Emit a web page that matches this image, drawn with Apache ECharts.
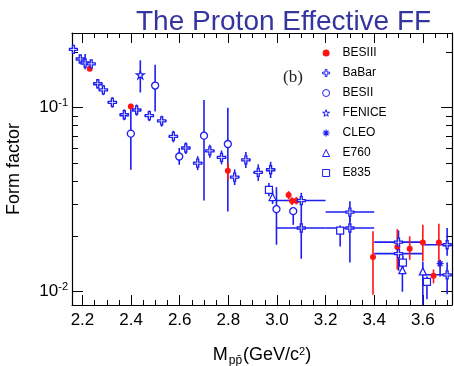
<!DOCTYPE html>
<html>
<head>
<meta charset="utf-8">
<script src="https://cdn.jsdelivr.net/npm/echarts@6/dist/echarts.min.js"></script>
<style>
html,body{margin:0;padding:0;background:#fff;}
#chart{width:454px;height:366px;}
</style>
</head>
<body>
<div id="chart"></div>
<script>
// ---------- data ----------
const xTickValues = [2.2, 2.4, 2.6, 2.8, 3.0, 3.2, 3.4, 3.6];
const xMinorValues = [2.25, 2.3, 2.35, 2.45, 2.5, 2.55, 2.65, 2.7, 2.75, 2.85, 2.9, 2.95,
                      3.05, 3.1, 3.15, 3.25, 3.3, 3.35, 3.45, 3.5, 3.55, 3.65, 3.7];
const yTickValues = [0.01, 0.1];
const yMinorValues = [0.02, 0.03, 0.04, 0.05, 0.06, 0.07, 0.08, 0.09, 0.2];

// BESIII
const besiiiX  = [2.230, 2.399, 2.798, 3.048, 3.062, 3.080, 3.395, 3.495, 3.546, 3.600, 3.644, 3.666];
const besiiiY  = [0.163, 0.1016, 0.0455, 0.0335, 0.0311, 0.0312, 0.01545, 0.0175, 0.0171, 0.0185, 0.0122, 0.0185];
const besiiiLo = [0.158, 0.098, 0.0406, 0.0318, 0.0296, 0.0298, 0.00964, 0.0132, 0.0149, 0.0146, 0.0111, 0.0137];
const besiiiHi = [0.168, 0.105, 0.0502, 0.0352, 0.0326, 0.0327, 0.0213, 0.0219, 0.0200, 0.0231, 0.0132, 0.0234];

// BaBar
const babarX  = [2.163, 2.191, 2.211, 2.236, 2.263, 2.286, 2.323, 2.372, 2.423, 2.475, 2.526, 2.574, 2.625,
                 2.674, 2.724, 2.772, 2.826, 2.872, 2.923, 2.974, 3.1, 3.1, 3.3, 3.3, 3.5, 3.5, 3.7, 3.7];
const babarY  = [0.2075, 0.184, 0.175, 0.173, 0.135, 0.125, 0.107, 0.0916, 0.0972, 0.0905, 0.0848, 0.0698, 0.0604,
                 0.0500, 0.0583, 0.0537, 0.0420, 0.0521, 0.0445, 0.0460, 0.0313, 0.0222, 0.0271, 0.0222, 0.0186, 0.0161, 0.0180, 0.01236];
const babarLo = [0.200, 0.177, 0.162, 0.166, 0.127, 0.117, 0.100, 0.0855, 0.0905, 0.0845, 0.0790, 0.0648, 0.0560,
                 0.0458, 0.0535, 0.0492, 0.0380, 0.0470, 0.0400, 0.0415, 0.0285, 0.0151, 0.0240, 0.0144, 0.0160, 0.0130, 0.0157, 0.00968];
const babarHi = [0.215, 0.191, 0.196, 0.180, 0.143, 0.133, 0.114, 0.0980, 0.104, 0.0965, 0.0905, 0.0750, 0.0648,
                 0.0545, 0.0630, 0.0585, 0.0462, 0.0575, 0.0492, 0.0508, 0.0345, 0.0285, 0.0310, 0.0260, 0.0215, 0.0186, 0.0222, 0.0144];
const babarXLo = [2.150, 2.178, 2.198, 2.223, 2.243, 2.266, 2.303, 2.352, 2.403, 2.455, 2.506, 2.554, 2.605,
                  2.654, 2.704, 2.752, 2.806, 2.852, 2.903, 2.954, 3.0, 3.0, 3.2, 3.2, 3.4, 3.4, 3.6, 3.6];
const babarXHi = [2.176, 2.204, 2.224, 2.249, 2.283, 2.306, 2.343, 2.392, 2.443, 2.495, 2.546, 2.594, 2.645,
                  2.694, 2.744, 2.792, 2.846, 2.892, 2.943, 2.994, 3.2, 3.2, 3.4, 3.4, 3.6, 3.6, 3.8, 3.8];

// BESII
const besiiX  = [2.399, 2.499, 2.598, 2.700, 2.798, 2.998, 3.067];
const besiiY  = [0.0723, 0.132, 0.0543, 0.0705, 0.0635, 0.0281, 0.0274];
const besiiLo = [0.046, 0.0955, 0.0490, 0.0313, 0.0273, 0.0180, 0.0231];
const besiiHi = [0.098, 0.171, 0.0604, 0.110, 0.100, 0.0370, 0.0285];

// FENICE
const feniceX  = [2.438];
const feniceY  = [0.151];
const feniceLo = [0.121];
const feniceHi = [0.181];

// CLEO
const cleoX  = [3.671];
const cleoY  = [0.0142];
const cleoLo = [0.0121];
const cleoHi = [0.0149];

// E760
const e760X  = [2.982, 3.516, 3.600];
const e760Y  = [0.0327, 0.0131, 0.0129];
const e760Lo = [0.0300, 0.0100, 0.0070];
const e760Hi = [0.0355, 0.0150, 0.0145];

// E835
const e835X  = [2.967, 3.260, 3.518, 3.617];
const e835Y  = [0.0358, 0.0215, 0.0144, 0.0113];
const e835Lo = [0.0330, 0.0176, 0.0129, 0.0091];
const e835Hi = [0.0390, 0.0229, 0.0158, 0.0121];

// ---------- styles ----------
const BLUE = '#1e1ef0';
const RED = '#ff1414';
const XMIN = 2.157, XMAX = 3.72;
const YMIN = 0.00847, YMAX = 0.2547;
const FONT = 'Liberation Sans';

function pts(xs, ys) { return xs.map((x, i) => [x, ys[i]]); }
function errs(xs, ys, lo, hi, xlo, xhi) {
  return xs.map((x, i) => [x, ys[i], lo[i], hi[i], xlo ? xlo[i] : x, xhi ? xhi[i] : x]);
}
function errSeries(name, data, color) {
  return {
    name: name + '_err', type: 'custom', xAxisIndex: 0, yAxisIndex: 0, clip: true, z: 2,
    silent: true,
    renderItem: function (params, api) {
      const x = api.value(0), y = api.value(1);
      const a = api.coord([x, api.value(2)]), b = api.coord([x, api.value(3)]);
      const c = api.coord([api.value(4), y]), d = api.coord([api.value(5), y]);
      const st = { stroke: color, lineWidth: 1.6 };
      return { type: 'group', children: [
        { type: 'line', shape: { x1: a[0], y1: a[1], x2: b[0], y2: b[1] }, style: st },
        { type: 'line', shape: { x1: c[0], y1: c[1], x2: d[0], y2: d[1] }, style: st }
      ]};
    },
    data: data
  };
}
function scat(name, data, symbol, size, fill, stroke, bw) {
  return {
    name: name, type: 'scatter', xAxisIndex: 0, yAxisIndex: 0, z: 5,
    symbol: symbol, symbolSize: size, data: data, clip: true,
    itemStyle: { color: fill, borderColor: stroke, borderWidth: bw, opacity: 1 },
    emphasis: { disabled: true }
  };
}

const CROSS = 'path://M3,0H5V3H8V5H5V8H3V5H0V3H3Z';
const STAR = 'path://M50,0L61,35L98,35L68,57L79,91L50,70L21,91L32,57L2,35L39,35Z';
const AST = 'path://M0,50L100,50M50,0L50,100M15,15L85,85M15,85L85,15';

const tickLine = { color: '#000', width: 1 };
function xAx(pos, major, labels) {
  return {
    type: 'value', position: pos, min: XMIN, max: XMAX, gridIndex: 0,
    axisLine: { show: major, lineStyle: { color: '#000', width: 1.2 } },
    axisTick: { show: true, inside: true, length: major ? 10 : 5,
      customValues: major ? xTickValues : xMinorValues, lineStyle: tickLine },
    axisLabel: labels ? { show: true, customValues: xTickValues, margin: 7,
      formatter: v => v.toFixed(1), fontSize: 17, color: '#000', fontFamily: FONT } : { show: false },
    splitLine: { show: false },
    name: labels ? '{m|M}{sub|pp\u0304}{m|(GeV/c}{sup|2}{m|)}' : '',
    nameLocation: 'middle', nameGap: 39,
    nameTextStyle: { fontFamily: FONT, color: '#000', fontSize: 18,
      rich: {
        m: { fontSize: 18, fontFamily: FONT, color: '#000' },
        sub: { fontSize: 12, fontFamily: FONT, color: '#000', verticalAlign: 'top', padding: [11, 1, 0, 1] },
        sup: { fontSize: 11, fontFamily: FONT, color: '#000', verticalAlign: 'bottom', padding: [0, 0, 10, 0] }
      } }
  };
}
function yAx(pos, major, labels) {
  return {
    type: 'log', logBase: 10, position: pos, min: YMIN, max: YMAX, gridIndex: 0,
    axisLine: { show: major, lineStyle: { color: '#000', width: 1.2 } },
    axisTick: { show: true, inside: true, length: major ? 11 : 6,
      customValues: major ? yTickValues : yMinorValues, lineStyle: tickLine },
    axisLabel: labels ? { show: true, customValues: yTickValues, margin: 4,
      formatter: v => '{b|10}{s|' + Math.round(Math.log10(v)) + '}',
      rich: {
        b: { fontSize: 17, fontFamily: FONT, color: '#000' },
        s: { fontSize: 11, fontFamily: FONT, color: '#000', verticalAlign: 'bottom', padding: [0, 0, 9, 0] }
      } } : { show: false },
    splitLine: { show: false },
    minorTick: { show: false },
    name: labels ? 'Form factor' : '',
    nameLocation: 'middle', nameGap: 49, nameRotate: 90,
    nameTextStyle: { fontFamily: FONT, color: '#000', fontSize: 18 }
  };
}

const openStyle = { color: '#fff', borderColor: BLUE, borderWidth: 1 };
const legendData = [
  { name: 'BESIII', icon: 'circle', itemStyle: { color: RED, borderWidth: 0 } },
  { name: 'BaBar', icon: CROSS, itemStyle: openStyle },
  { name: 'BESII', icon: 'circle', itemStyle: openStyle },
  { name: 'FENICE', icon: STAR, itemStyle: openStyle },
  { name: 'CLEO', icon: AST, itemStyle: { color: 'rgba(0,0,0,0)', borderColor: BLUE, borderWidth: 1.2 } },
  { name: 'E760', icon: 'triangle', itemStyle: openStyle },
  { name: 'E835', icon: 'rect', itemStyle: openStyle }
];

const chart = echarts.init(document.getElementById('chart'), null, { renderer: 'canvas' });
chart.setOption({
  animation: false,
  backgroundColor: '#fff',
  title: {
    text: 'The Proton Effective FF', left: 131, top: 3,
    textStyle: { fontFamily: FONT, fontSize: 28, fontWeight: 'normal', color: '#3535a0' }
  },
  grid: { left: 72, right: 2, top: 33, bottom: 61, outerBoundsMode: 'none', containLabel: false },
  legend: {
    data: legendData, orient: 'vertical', left: 322, top: 46, padding: 0,
    itemWidth: 7, itemHeight: 7, itemGap: 6,
    textStyle: { fontFamily: FONT, fontSize: 12, color: '#000', lineHeight: 14, padding: [0, 0, 0, 8] },
    selectedMode: false
  },
  graphic: [{ type: 'text', left: 283, top: 69, style: { text: '(b)', font: '17px "Liberation Serif"', fill: '#222' } }],
  xAxis: [xAx('bottom', true, true), xAx('bottom', false, false), xAx('top', true, false), xAx('top', false, false)],
  yAxis: [yAx('left', true, true), yAx('left', false, false), yAx('right', true, false), yAx('right', false, false)],
  series: [
    errSeries('BaBar', errs(babarX, babarY, babarLo, babarHi, babarXLo, babarXHi), BLUE),
    errSeries('BESII', errs(besiiX, besiiY, besiiLo, besiiHi), BLUE),
    errSeries('FENICE', errs(feniceX, feniceY, feniceLo, feniceHi), BLUE),
    errSeries('CLEO', errs(cleoX, cleoY, cleoLo, cleoHi), BLUE),
    errSeries('E760', errs(e760X, e760Y, e760Lo, e760Hi), BLUE),
    errSeries('E835', errs(e835X, e835Y, e835Lo, e835Hi), BLUE),
    errSeries('BESIII', errs(besiiiX, besiiiY, besiiiLo, besiiiHi), RED),
    scat('BESIII', pts(besiiiX, besiiiY), 'circle', 6, RED, RED, 0),
    scat('BaBar', pts(babarX, babarY), CROSS, 8, '#fff', BLUE, 1.3),
    scat('BESII', pts(besiiX, besiiY), 'circle', 7, '#fff', BLUE, 1.3),
    scat('FENICE', pts(feniceX, feniceY), STAR, 8, '#fff', BLUE, 1.2),
    scat('CLEO', pts(cleoX, cleoY), AST, 7, 'rgba(0,0,0,0)', BLUE, 1.3),
    scat('E760', pts(e760X, e760Y), 'triangle', 7, '#fff', BLUE, 1.2),
    scat('E835', pts(e835X, e835Y), 'rect', 7, '#fff', BLUE, 1.2)
  ]
});
</script>
</body>
</html>
